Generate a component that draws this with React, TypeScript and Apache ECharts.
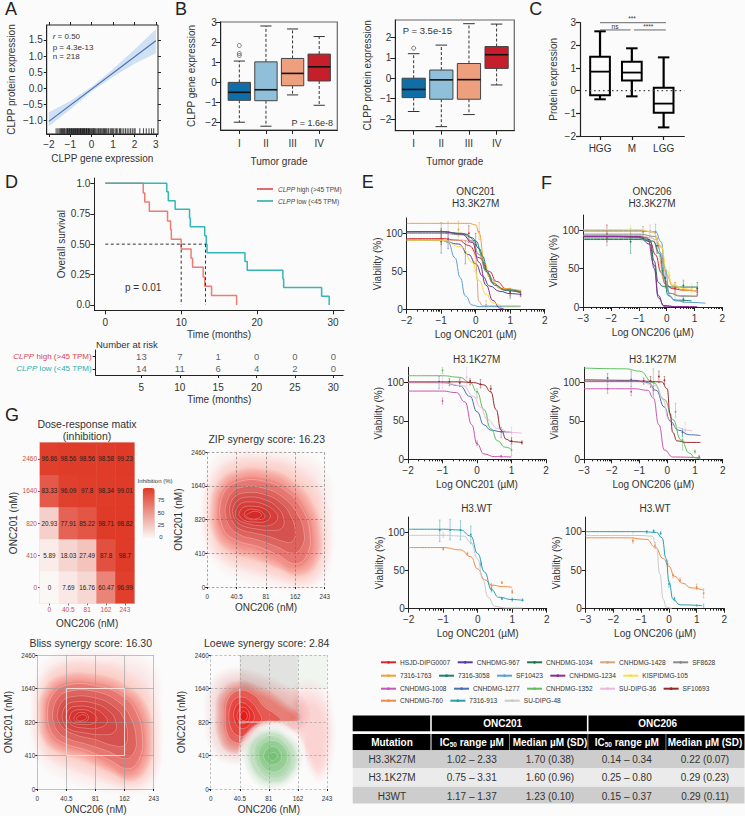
import React, { useEffect, useRef } from "react";
import * as echarts from "echarts";

const FONT = '"Liberation Sans", Arial, sans-serif';
const INK = "#222";
const TXT = "#333";

// ---- Panel A
const aLine = [[-2, -1.02], [3, 1.47]];
const aBand = [[-2, -0.74], [-1, -0.39], [0, 0.05], [1, 0.6], [2, 1.2], [3, 1.83], [3, 1.09], [2, 0.76], [1, 0.36], [0, -0.09], [-1, -0.65], [-2, -1.17]];
const aRug = [-1.66, -1.58, -1.52, -1.47, -1.43, -1.4, -1.36, -1.31, -1.28, -1.25, -1.2, -1.16, -1.13, -1.11, -1.07, -1.04, -1.02, -0.98, -0.95, -0.93, -0.9, -0.86, -0.84, -0.81, -0.78, -0.75, -0.73, -0.7, -0.66, -0.64, -0.62, -0.57, -0.54, -0.52, -0.5, -0.46, -0.44, -0.42, -0.38, -0.35, -0.33, -0.3, -0.26, -0.24, -0.22, -0.18, -0.15, -0.13, -0.1, -0.05, 0.0, 0.03, 0.07, 0.1, 0.12, 0.16, 0.2, 0.25, 0.3, 0.33, 0.38, 0.42, 0.47, 0.52, 0.56, 0.6, 0.65, 0.7, 0.76, 0.8, 0.87, 0.92, 0.98, 1.03, 1.1, 1.16, 1.22, 1.3, 1.35, 1.42, 1.5, 1.58, 1.66, 1.74, 1.82, 1.9, 1.98, 2.03, 2.25, 2.42, 2.55, 2.68, 2.8, 2.9];

// ---- Panels B, C
const gradeLabels = ["I", "II", "III", "IV"];
const gradeColors = ["#0f6ea8", "#8fbfd9", "#ee9f7d", "#c41f2a"];
const b1Boxes = [[1, -2, -0.9, -0.5, 0, 1.07], [2, -2.2, -0.92, -0.37, 1.03, 2.83], [3, -0.63, -0.17, 0.45, 1.2, 2.68], [4, -1.15, 0.07, 0.78, 1.42, 2.3]];
const b1Out = [[1, 1.35], [1, 1.45], [1, 1.85]];
const b2Boxes = [[1, -1.63, -0.95, -0.55, 0, 1.2], [2, -2.37, -1.03, -0.08, 0.4, 1.62], [3, -1.78, -1.03, -0.07, 0.72, 2.67], [4, -0.33, 0.48, 1.15, 1.55, 2.65]];
const b2Out = [[1, 1.47]];
const cLabels = ["HGG", "M", "LGG"];
const cBoxes = [[1, -0.38, -0.2, 0.84, 1.5, 2.62], [2, -0.25, 0.45, 0.8, 1.28, 1.87], [3, -1.62, -0.97, -0.57, 0.13, 1.47]];

// ---- Panel D
const kmHigh = [[0, 1], [5, 0.92], [5.2, 0.846], [5.8, 0.77], [8.2, 0.69], [8.6, 0.62], [8.7, 0.54], [10, 0.46], [11.3, 0.385], [11.5, 0.31], [12.9, 0.23], [13.1, 0.154], [14, 0.077], [17.3, 0]];
const kmLow = [[0, 1], [8.1, 0.93], [8.3, 0.857], [9.2, 0.786], [11.1, 0.714], [11.2, 0.643], [13.1, 0.57], [13.3, 0.5], [13.4, 0.43], [18.4, 0.357], [18.7, 0.286], [23.4, 0.214], [23.5, 0.143], [28.5, 0.071], [29.5, 0]];
const riskTimes = [5, 10, 15, 20, 25, 30];
const riskHigh = [13, 7, 1, 0, 0, 0];
const riskLow = [14, 11, 6, 4, 2, 0];
const riskRows = ["CLPP low (<45 TPM)", "CLPP high (>45 TPM)"];

// ---- Panels E, F
const strains = ["HSJD-DIPG0007", "CNHDMG-967", "CNHDMG-1034", "CNHDMG-1428", "SF8628", "7316-1763", "7316-3058", "SF10423", "CNHDMG-1234", "KISPIDMG-105", "CNHDMG-1008", "CNHDMG-1277", "CNHDMG-1352", "SU-DIPG-36", "SF10693", "CNHDMG-760", "7316-913", "SU-DIPG-48"];
const strainColors = ["#d7262e", "#5a3d96", "#1f7a54", "#d0a77e", "#8a8a8a", "#f0a035", "#1d7f72", "#5a9fd8", "#8a2f8f", "#f5e04a", "#c756b0", "#4a6fb5", "#5fbf5f", "#ecb8dc", "#952a2a", "#ef8a4a", "#2a9db0", "#c9c9c9"];

const e1Curves: any = {
  4: [[-2, 100], [-1, 100], [-0.4, 98], [-0.1, 90], [0.1, 72], [0.3, 50], [0.5, 35], [0.8, 26], [1.3, 22]],
  3: [[-2, 91], [-1, 91], [-0.4, 91], [-0.05, 88], [0, 70], [0.04, 40], [0.08, 12], [0.2, 5], [1.3, 5]],
  5: [[-2, 113], [-1, 113], [-0.2, 113], [0, 111], [0.1, 100], [0.25, 62], [0.4, 42], [0.7, 28], [1.3, 25]],
  9: [[-2, 91], [-1, 91], [-0.4, 82], [-0.1, 62], [0.1, 38], [0.3, 20], [0.5, 9], [0.8, 5], [1.3, 5]],
  7: [[-2, 92], [-1, 92], [-0.8, 88], [-0.6, 68], [-0.45, 42], [-0.3, 18], [-0.1, 6], [0.1, 4], [1, 4], [1.3, 4]],
  8: [[-2, 102], [-1, 102], [-0.4, 99], [-0.1, 88], [0.1, 62], [0.3, 32], [0.5, 12], [0.7, 2], [0.85, 0]],
  1: [[-2, 91], [-1, 90.5], [-0.5, 86], [-0.2, 72], [0, 60], [0.2, 44], [0.4, 31], [0.7, 24], [1, 21], [1.3, 20]],
  0: [[-2, 93], [-1, 93], [-0.5, 91], [-0.2, 84], [0.1, 68], [0.4, 50], [0.6, 37], [0.9, 27], [1.3, 22]],
  2: [[-2, 102], [-1, 102], [-0.4, 100], [-0.1, 94], [0.1, 80], [0.3, 52], [0.5, 35], [0.8, 27], [1.3, 24]],
  6: [[-2, 102], [-1, 102], [-0.3, 99], [0, 90], [0.2, 70], [0.35, 48], [0.55, 32], [0.9, 25], [1.3, 23]],
};
const e1Errs = [[-1, 88, 100, 114, 4], [-1, 74, 90, 106, 2], [-1, 85, 93, 104, 0], [-0.8, 90, 100, 115, 3], [-0.8, 80, 92, 102, 1], [-0.5, 95, 105, 116, 5], [-0.3, 60, 75, 90, 2], [-0.2, 88, 100, 110, 0], [-0.05, 50, 62, 76, 9], [0, 70, 85, 100, 8], [0.1, 92, 102, 114, 5], [0.3, 0, 6, 12, 3], [1, 15, 22, 28, 2], [1, 18, 24, 27, 0], [1.3, 18, 22, 26, 3], [1.3, 17, 20, 24, 8]];

const e2Curves: any = {
  13: [[-2, 100], [-1, 100], [-0.4, 96], [-0.1, 82], [0.1, 68], [0.3, 52], [0.6, 40], [1, 35], [1.3, 34]],
  14: [[-2, 101], [-0.5, 101], [-0.1, 100], [0.2, 97], [0.4, 88], [0.55, 65], [0.7, 38], [0.85, 26], [1, 23], [1.3, 22]],
  12: [[-2, 109], [-1, 109], [-0.5, 107], [-0.2, 100], [0, 88], [0.2, 65], [0.4, 40], [0.6, 24], [0.8, 16], [1, 13]],
  11: [[-2, 100], [-1, 100], [-0.5, 96], [-0.2, 82], [0, 62], [0.2, 45], [0.4, 38], [0.7, 36], [1, 35]],
  10: [[-2, 89], [-1, 89], [-0.6, 87], [-0.35, 75], [-0.15, 45], [0, 20], [0.2, 7], [0.5, 3.5], [1, 3]],
};
const e2Errs = [[-1.1, 92, 101, 108, 11], [-1, 112, 116, 120, 12], [-1, 72, 76, 80, 10], [-1, 92, 100, 108, 13], [-0.8, 96, 101, 105, 14], [-0.5, 95, 100, 105, 14], [-0.3, 95, 107, 120, 13], [-0.2, 97, 102, 105, 14], [0.1, 93, 98, 104, 14], [0.4, 88, 92, 96, 14], [0, 80, 88, 92, 12], [0.3, 44, 52, 58, 13], [0.7, 28, 36, 42, 11], [1, 25, 35, 42, 13], [1, 20, 24, 28, 14], [1, 5, 12, 19, 12], [1.3, 20, 22, 24, 14], [0.7, 3, 4, 5, 10], [0, 18, 21, 24, 10]];

const e3Curves: any = {
  17: [[-2, 96], [-1, 96], [-0.4, 95], [-0.2, 87], [0, 65], [0.15, 38], [0.3, 15], [0.5, 3], [0.8, 1], [1.3, 1]],
  15: [[-2, 80], [-1, 80], [-0.5, 77], [-0.2, 68], [0, 52], [0.2, 38], [0.4, 31], [0.7, 29], [1, 28]],
  16: [[-2, 104], [-1, 104], [-0.5, 103], [-0.2, 95], [0, 72], [0.2, 48], [0.4, 25], [0.6, 15], [1, 12], [1.3, 11]],
};
const e3Errs = [[-1.1, 88, 103, 116, 16], [-0.8, 90, 103, 117, 16], [-0.5, 90, 103, 115, 16], [-0.2, 85, 97, 108, 16], [-1, 93, 96, 100, 17], [-1, 77, 78, 80, 15], [-0.3, 70, 72, 74, 15], [0.1, 55, 58, 61, 16], [0.4, 27, 30, 33, 15], [0.4, 22, 25, 28, 16], [0.7, 33, 34, 36, 15], [0.7, 12, 13, 15, 16], [1, 20, 22, 25, 15], [1, 10, 12, 14, 16], [1.3, 10, 11, 13, 16]];

const f1Curves: any = {
  4: [[-3, 95], [-1, 95], [-0.4, 92], [-0.2, 70], [-0.05, 35], [0.1, 18], [0.5, 14], [1.1, 14]],
  3: [[-3, 93], [-1, 93], [-0.5, 90], [-0.3, 70], [-0.1, 35], [0.1, 18], [0.5, 15], [1.1, 14]],
  9: [[-3, 101], [-1, 101], [-0.5, 98], [-0.2, 80], [0, 48], [0.2, 30], [0.6, 24], [1.1, 20]],
  5: [[-3, 100], [-1, 100], [-0.5, 98], [-0.2, 78], [0, 42], [0.2, 28], [0.6, 22], [1.1, 20]],
  7: [[-3, 99], [-1, 99], [-0.4, 98], [-0.2, 85], [-0.05, 50], [0.1, 15], [0.3, 8], [0.8, 6], [1.4, 5]],
  6: [[-3, 88], [-1, 88], [-0.5, 86], [-0.25, 70], [-0.1, 40], [0.05, 15], [0.3, 9], [0.9, 8]],
  2: [[-3, 90], [-1, 90], [-0.6, 88], [-0.45, 60], [-0.3, 32], [-0.15, 27], [0.3, 26], [1.1, 26]],
  1: [[-3, 92], [-2, 92], [-1, 91], [-0.6, 82], [-0.45, 50], [-0.3, 12], [-0.1, 2], [0.3, 0.5], [0.8, 0.5]],
  8: [[-3, 92], [-1, 92], [-0.7, 90], [-0.45, 55], [-0.3, 15], [-0.1, 1], [0.5, 0.5], [1.1, 0.5]],
  0: [[-3, 93], [-2, 93], [-1, 92], [-0.6, 85], [-0.4, 68], [-0.2, 45], [-0.05, 30], [0.2, 24], [0.6, 22], [1.1, 21]],
};
const f1Errs = [[-2.15, 85, 95, 107, 0], [-2.15, 80, 90, 100, 4], [-1.3, 70, 85, 102, 2], [-1.3, 96, 100, 106, 9], [-0.85, 92, 98, 105, 4], [-0.6, 92, 99, 107, 3], [-0.4, 88, 98, 108, 7], [-0.35, 70, 80, 90, 1], [-0.05, 25, 38, 48, 0], [0.1, 35, 42, 52, 9], [0.3, 18, 24, 32, 0], [0.3, 10, 16, 22, 3], [0.6, 22, 28, 35, 2], [0.6, 6, 10, 14, 6], [0.9, 18, 24, 30, 9], [1.1, 15, 24, 32, 2], [1.1, 16, 20, 26, 0]];

const f2Curves: any = {
  13: [[-3, 101], [-1, 101], [-0.4, 96], [-0.15, 78], [0.05, 52], [0.3, 42], [0.7, 38], [0.9, 37]],
  12: [[-3, 119], [-1.5, 118], [-1, 115], [-0.5, 100], [-0.1, 78], [0.2, 52], [0.5, 25], [0.8, 8], [1, 2], [1.2, 0]],
  14: [[-3, 102], [-1, 102], [-0.2, 101], [0, 92], [0.1, 60], [0.2, 35], [0.35, 24], [0.7, 22], [1.2, 22]],
  11: [[-3, 104], [-1.2, 103], [-0.7, 100], [-0.4, 90], [-0.1, 68], [0.1, 50], [0.4, 38], [0.8, 32], [1.2, 31]],
  10: [[-3, 92], [-1.2, 92], [-0.7, 90], [-0.5, 80], [-0.3, 45], [-0.1, 12], [0.2, 3], [1.2, 2]],
};
const f2Errs = [[-2.15, 86, 92, 98, 10], [-2.15, 100, 106, 112, 11], [-1.3, 83, 88, 93, 10], [-1.3, 95, 104, 115, 11], [-0.85, 98, 102, 106, 14], [-0.6, 94, 102, 108, 14], [-0.3, 100, 108, 115, 14], [-0.1, 98, 103, 108, 14], [-0.5, 84, 90, 95, 10], [-0.5, 82, 100, 118, 12], [0.3, 55, 62, 73, 12], [0.15, 45, 52, 58, 13], [0.55, 12, 25, 38, 12], [0.55, 30, 35, 40, 11], [0.65, 33, 38, 48, 13], [1, 8, 10, 12, 12], [1.15, 1, 3, 5, 10]];

const f3Curves: any = {
  17: [[-3, 95], [-1, 95], [-0.6, 94], [-0.45, 80], [-0.33, 45], [-0.2, 12], [-0.1, 2], [0.1, 0]],
  15: [[-3, 92], [-1.5, 92], [-0.8, 90], [-0.5, 80], [-0.2, 65], [0, 55], [0.2, 42], [0.5, 33], [0.8, 27], [1.25, 24]],
  16: [[-3, 100], [-1, 100], [-0.45, 99], [-0.25, 92], [-0.1, 65], [0, 35], [0.15, 12], [0.4, 5], [1.2, 4]],
};
const f3Errs = [[-1.3, 85, 88, 92, 15], [-0.8, 98, 100, 101, 16], [-0.55, 99, 101, 102, 16], [-0.3, 96, 98, 100, 16], [-0.5, 78, 82, 86, 15], [-1.3, 95, 97, 99, 17], [-0.05, 50, 58, 62, 15], [0, 28, 32, 36, 16], [0.15, 40, 43, 45, 15], [0.2, 10, 13, 15, 16], [0.4, 35, 37, 40, 15], [1, 25, 28, 32, 15], [1.25, 14, 20, 26, 15], [1, 3, 4, 5, 16], [1.25, 2, 4, 6, 16]];

const legendRows = [strains.slice(0, 5), strains.slice(5, 10), strains.slice(10, 15), strains.slice(15, 18)];

// ---- Panel G
const doses206 = ["0", "40.5", "81", "162", "243"];
const doses201 = ["0", "410", "820", "1640", "2460"];
const heatRows = [
  [0, 7.69, 16.76, 60.47, 96.99],
  [5.89, 18.03, 27.49, 87.8, 98.7],
  [20.93, 77.91, 85.22, 98.71, 98.82],
  [83.33, 96.09, 97.8, 98.34, 99.01],
  [96.86, 98.56, 98.56, 98.58, 99.23],
];
const heatLegendTicks = [75, 50, 25, 0];

const zipRings = [
  [[0.02, 2.4], [0.15, 3.3], [0.7, 3.85], [1.9, 3.95], [3.1, 3.8], [3.9, 3.3], [4.05, 2.2], [4.05, 1], [3.8, 0.3], [3, 0.05], [2, 0.2], [1, 0.45], [0.3, 0.95], [0.05, 1.6]],
  [[0.1, 2.35], [0.3, 3.1], [0.95, 3.6], [2, 3.65], [3, 3.35], [3.7, 2.7], [3.95, 1.7], [3.85, 0.7], [3.25, 0.2], [2.4, 0.4], [1.6, 0.65], [0.8, 0.85], [0.25, 1.3]],
  [[0.26, 2.29], [0.49, 2.98], [1.11, 3.33], [2.02, 3.33], [2.82, 3.03], [3.44, 2.39], [3.73, 1.59], [3.61, 0.8], [3.05, 0.46], [2.36, 0.7], [1.68, 0.95], [0.89, 1.15], [0.38, 1.59]],
  [[0.42, 2.3], [0.6, 2.85], [1.15, 3.15], [2, 3.13], [2.7, 2.85], [3.25, 2.3], [3.5, 1.6], [3.4, 0.95], [3, 0.68], [2.4, 0.95], [1.7, 1.2], [1, 1.38], [0.55, 1.7]],
  [[0.6, 2.3], [0.78, 2.75], [1.2, 2.97], [1.95, 2.93], [2.6, 2.65], [3.05, 2.2], [3.3, 1.6], [3.2, 1.15], [2.9, 1], [2.35, 1.2], [1.7, 1.4], [1.1, 1.55], [0.72, 1.85]],
  [[0.75, 2.3], [0.9, 2.65], [1.3, 2.8], [1.95, 2.75], [2.5, 2.5], [2.85, 2.1], [3, 1.65], [2.9, 1.35], [2.6, 1.35], [2.1, 1.5], [1.6, 1.6], [1.1, 1.72], [0.85, 1.95]],
  [[0.85, 2.25], [1, 2.55], [1.35, 2.67], [1.95, 2.6], [2.4, 2.35], [2.6, 2.05], [2.55, 1.75], [2.2, 1.68], [1.7, 1.72], [1.2, 1.82], [0.95, 2]],
  [[0.95, 2.2], [1.1, 2.45], [1.45, 2.53], [1.95, 2.45], [2.3, 2.25], [2.4, 2.05], [2.2, 1.85], [1.75, 1.82], [1.3, 1.9], [1.02, 2.02]],
  [[1.07, 2.15], [1.2, 2.35], [1.55, 2.4], [1.95, 2.32], [2.15, 2.12], [2, 1.95], [1.6, 1.93], [1.25, 1.98]],
  [[1.25, 2.15], [1.35, 2.28], [1.65, 2.3], [1.9, 2.2], [1.95, 2.05], [1.7, 2], [1.35, 2.03]],
  [[1.3, 2.12], [1.6, 2.25], [1.85, 2.15], [1.7, 2.03], [1.4, 2.05]],
];
const blissRings = [
  [[0.02, 2.2], [0.1, 3.2], [0.7, 3.85], [2, 3.95], [3.2, 3.85], [3.95, 3.4], [4.05, 2.2], [4.05, 1], [3.8, 0.25], [3.1, 0.02], [2.1, 0.15], [1, 0.45], [0.25, 0.9], [0.03, 1.5]],
  [[0.08, 2.15], [0.2, 3], [0.85, 3.55], [2.05, 3.6], [3.1, 3.3], [3.8, 2.65], [3.98, 1.6], [3.85, 0.55], [3.2, 0.15], [2.4, 0.38], [1.5, 0.72], [0.7, 0.97], [0.2, 1.35]],
  [[0.2, 2.1], [0.32, 2.8], [0.9, 3.25], [2.05, 3.25], [2.97, 2.95], [3.6, 2.4], [3.83, 1.5], [3.65, 0.72], [3.14, 0.37], [2.5, 0.62], [1.7, 0.97], [0.78, 1.21], [0.32, 1.56]],
  [[0.35, 2.15], [0.47, 2.75], [1, 3.1], [2.05, 3.08], [2.9, 2.8], [3.4, 2.3], [3.62, 1.5], [3.48, 0.85], [3.12, 0.6], [2.5, 0.85], [1.7, 1.15], [0.9, 1.37], [0.48, 1.68]],
  [[0.52, 2.15], [0.65, 2.65], [1.1, 2.92], [2.05, 2.9], [2.8, 2.6], [3.2, 2.15], [3.4, 1.5], [3.3, 1.05], [3, 0.9], [2.5, 1.1], [1.7, 1.33], [1, 1.52], [0.65, 1.78]],
  [[0.68, 2.15], [0.8, 2.55], [1.15, 2.75], [2, 2.72], [2.65, 2.45], [3, 2.05], [3.1, 1.55], [3, 1.3], [2.6, 1.3], [2, 1.47], [1.3, 1.62], [0.85, 1.85]],
  [[0.85, 2.15], [0.95, 2.45], [1.25, 2.6], [2, 2.55], [2.5, 2.3], [2.7, 2], [2.65, 1.7], [2.2, 1.62], [1.6, 1.68], [1.1, 1.78], [0.92, 1.95]],
  [[0.98, 2.13], [1.08, 2.38], [1.35, 2.47], [1.9, 2.42], [2.3, 2.2], [2.4, 1.98], [2.1, 1.82], [1.6, 1.82], [1.2, 1.9]],
  [[1.1, 2.1], [1.2, 2.3], [1.5, 2.37], [1.85, 2.3], [2.05, 2.1], [1.9, 1.95], [1.5, 1.93], [1.2, 1.98]],
  [[1.25, 2.12], [1.37, 2.25], [1.6, 2.28], [1.75, 2.18], [1.7, 2.03], [1.45, 2], [1.3, 2.03]],
  [[1.33, 2.12], [1.55, 2.22], [1.7, 2.14], [1.55, 2.04], [1.38, 2.05]],
];
const loewePatches = [
  { pts: [[1, 3], [3, 3], [3, 4], [1, 4]], fill: "#e2e2e0" },
  { pts: [[3, 3], [4, 3], [4, 4], [3, 4]], fill: "#f1f5ef" },
  { pts: [[1, 2], [3, 2], [3, 3], [1, 3]], fill: "#f1dcd9" },
];
const loewePale = [
  [[2.95, 2.95], [3.7, 3], [4.08, 2.3], [4.08, 0.9], [3.75, 0.35], [3.3, 0.8], [3.05, 1.4], [2.5, 1.8], [2.9, 2]],
  [[3, 2.6], [3.6, 2.6], [3.95, 2.1], [3.95, 1.1], [3.7, 0.6], [3.3, 1.1], [3.1, 1.6], [2.75, 1.9]],
];
const loeweRed = [
  [[0.05, 2.2], [0.15, 3], [0.7, 3.4], [1.5, 3.3], [2.3, 3], [3, 2.6], [3.1, 2], [2.3, 1.75], [1.7, 1.55], [1.3, 1.05], [0.7, 0.95], [0.2, 1.3]],
  [[0.32, 2.2], [0.44, 2.8], [1, 3.1], [1.7, 2.9], [2.4, 2.55], [2.95, 2.1], [1.93, 1.97], [1.58, 1.67], [1.18, 1.27], [0.66, 1.22], [0.38, 1.62]],
  [[0.5, 2.2], [0.6, 2.7], [1, 2.95], [1.5, 2.8], [1.85, 2.45], [2.2, 2.25], [2.4, 2.05], [1.8, 2], [1.55, 1.75], [1.2, 1.42], [0.8, 1.4], [0.55, 1.7]],
  [[0.62, 2.2], [0.75, 2.62], [1.05, 2.75], [1.4, 2.6], [1.65, 2.3], [1.75, 2.05], [1.5, 1.85], [1.2, 1.6], [0.9, 1.6], [0.68, 1.85]],
  [[0.78, 2.2], [0.88, 2.5], [1.1, 2.58], [1.35, 2.42], [1.5, 2.15], [1.35, 1.92], [1.1, 1.8], [0.9, 1.88]],
  [[0.9, 2.18], [1, 2.4], [1.18, 2.43], [1.33, 2.25], [1.3, 2.05], [1.1, 1.95], [0.97, 2.02]],
  [[1, 2.15], [1.1, 2.32], [1.22, 2.28], [1.25, 2.12], [1.12, 2.03]],
];
const loeweHalo = [[1.15, 1], [1.4, 1.6], [2, 1.85], [2.7, 1.65], [3.1, 1.05], [2.9, 0.4], [2.25, 0.05], [1.5, 0.2]];
const loeweGreen = [
  [[1.25, 1], [1.45, 1.5], [2, 1.72], [2.6, 1.55], [3, 1.05], [2.8, 0.45], [2.25, 0.15], [1.6, 0.3]],
  [[1.45, 1], [1.6, 1.42], [2.1, 1.6], [2.55, 1.4], [2.82, 0.95], [2.6, 0.45], [2.15, 0.3], [1.7, 0.5]],
  [[1.62, 1], [1.75, 1.32], [2.15, 1.45], [2.5, 1.28], [2.65, 0.95], [2.45, 0.6], [2.1, 0.5], [1.8, 0.65]],
  [[1.8, 0.98], [1.95, 1.22], [2.2, 1.27], [2.4, 1.1], [2.42, 0.88], [2.2, 0.72], [1.95, 0.77]],
  [[1.98, 0.98], [2.15, 1.1], [2.3, 1], [2.2, 0.87], [2.05, 0.87]],
];
const blissFrame = [[1, 1], [1, 3], [3, 3], [3, 1], [1, 1]];
const loeweFrameV = [[1, 3], [1, 1.4]];
const loeweFrameH = [[1, 2], [3, 2]];

// ---- Table
const tableHead1 = ["ONC201", "ONC206"];
const tableMutations = ["H3.3K27M", "H3.1K27M", "H3WT"];
const tableRows = [
  ["1.02 – 2.33", "1.70 (0.38)", "0.14 – 0.34", "0.22 (0.07)"],
  ["0.75 – 3.31", "1.60 (0.96)", "0.25 – 0.80", "0.29 (0.23)"],
  ["1.17 – 1.37", "1.23 (0.10)", "0.15 – 0.37", "0.29 (0.11)"],
];

const minusFix = (s: any) => String(s).replace("-", "−");
const LOG_OFFS = [Math.log10(2), Math.log10(3), Math.log10(4), Math.log10(5), Math.log10(6), Math.log10(7), Math.log10(8), Math.log10(9)];
const FEATHER_STEPS = [1, 0.8, 0.6, 0.4, 0.2, 0, -0.2, -0.4, -0.6, -0.8];

function buildOption() {
  const grid: any[] = [];
  const xAxis: any[] = [];
  const yAxis: any[] = [];
  const series: any[] = [];
  const gfx: any[] = [];

  const addText = (x: number, y: number, text: string, o: any = {}) =>
    gfx.push({
      type: "text", x, y, silent: true,
      style: { text, fontFamily: FONT, fontSize: o.size ?? 10, fill: o.fill ?? TXT, align: o.align ?? "center", verticalAlign: "middle", fontWeight: o.weight ?? "normal", rich: o.rich },
    });

  const mkAxis = (gridIndex: number, s: any) => {
    const labels = s.labels;
    return {
      type: s.type ?? "value", gridIndex, min: s.min, max: s.max, position: s.pos, z: s.z,
      data: s.data,
      axisLine: { show: s.line !== false, onZero: false, lineStyle: { color: s.lineColor ?? INK, width: s.lineWidth ?? 1 } },
      axisTick: { show: s.tick !== false, length: s.tickLen ?? 3, customValues: s.ticks, alignWithLabel: s.type === "category" ? true : undefined, lineStyle: { color: s.tickColor ?? INK, width: s.tickWidth ?? 1 } },
      minorTick: { show: false },
      axisLabel: {
        show: !!labels || !!s.fmt, customValues: labels ? s.ticks : undefined, margin: s.margin ?? 4, hideOverlap: false, interval: s.type === "category" ? 0 : undefined,
        formatter: s.fmt ?? (labels ? (v: number) => { const i = s.ticks.findIndex((t: number) => Math.abs(t - v) < 1e-6); return i < 0 ? "" : labels[i]; } : undefined),
        fontSize: s.size ?? 10, fontFamily: FONT, color: s.labelColor ?? TXT, rich: s.rich,
      },
      splitLine: s.split ? { show: true, lineStyle: s.split } : { show: false },
      name: s.name, nameLocation: "middle", nameGap: s.nameGap, nameTextStyle: { fontSize: s.nameSize ?? 10, fontFamily: FONT, color: TXT },
    };
  };

  const addPanel = (rect: number[], x: any, y: any, gridExtra: any = {}) => {
    const g = grid.length;
    grid.push({ left: rect[0], top: rect[1], width: rect[2], height: rect[3], ...gridExtra });
    xAxis.push(mkAxis(g, x));
    yAxis.push(mkAxis(g, y));
    return { g, x: xAxis.length - 1, y: yAxis.length - 1 };
  };

  const boxSeries = (p: any, boxes: number[][], st: any) => {
    series.push({
      type: "custom", xAxisIndex: p.x, yAxisIndex: p.y, data: boxes, clip: false,
      renderItem: (params: any, api: any) => {
        const cx = api.value(0);
        const [lo, q1, med, q3, hi] = [1, 2, 3, 4, 5].map((d) => api.value(d));
        const c = (a: number, b: number) => api.coord([a, b]);
        const fill = st.colors ? st.colors[params.dataIndex] : "transparent";
        const L = (a: number[], b: number[], s: any) => ({ type: "line", shape: { x1: a[0], y1: a[1], x2: b[0], y2: b[1] }, style: s });
        const wh = { stroke: st.whisker, lineWidth: st.whiskerW, lineDash: st.dash };
        const cap = { stroke: st.whisker, lineWidth: st.capW ?? st.whiskerW };
        const tl = c(cx - st.w / 2, q3);
        const br = c(cx + st.w / 2, q1);
        return {
          type: "group",
          children: [
            L(c(cx, q3), c(cx, hi), wh),
            L(c(cx, q1), c(cx, lo), wh),
            L(c(cx - st.cap / 2, hi), c(cx + st.cap / 2, hi), cap),
            L(c(cx - st.cap / 2, lo), c(cx + st.cap / 2, lo), cap),
            { type: "rect", shape: { x: tl[0], y: tl[1], width: br[0] - tl[0], height: br[1] - tl[1] }, style: { fill, stroke: st.border, lineWidth: st.borderW } },
            L(c(cx - st.w / 2, med), c(cx + st.w / 2, med), { stroke: st.median, lineWidth: st.medW }),
          ],
        };
      },
    });
  };

  // Read-off contour outlines. Each is painted several times, pushed in or out by a few pixels
  // around its own centre, at a low opacity, so its edge fades like the reference's smooth surface.
  const ringSeries = (p: any, rings: number[][][], st: (i: number) => any) => {
    series.push({
      type: "custom", xAxisIndex: p.x, yAxisIndex: p.y, clip: false, silent: true,
      data: rings.map((_, i) => [i, 0]),
      renderItem: (params: any, api: any) => {
        const i = params.dataIndex;
        const s = st(i);
        const points: number[][] = rings[i].map((pt) => api.coord(pt));
        const smooth = s.smooth ?? 0.45;
        const cx = points.reduce((a, q) => a + q[0], 0) / points.length;
        const cy = points.reduce((a, q) => a + q[1], 0) / points.length;
        const children: any[] = [];
        if (s.feather) {
          const a = 1 - Math.pow(1 - s.alpha, 1 / FEATHER_STEPS.length);
          FEATHER_STEPS.forEach((f) => {
            const d = (s.feather * f) / 2;
            const pts = points.map((q) => {
              const dx = q[0] - cx;
              const dy = q[1] - cy;
              const r = Math.hypot(dx, dy) || 1;
              const k = Math.max(0.05, 1 + d / r);
              return [cx + dx * k, cy + dy * k];
            });
            children.push({ type: "polygon", shape: { points: pts, smooth }, style: { fill: s.color, opacity: a } });
          });
        } else {
          children.push({ type: "polygon", shape: { points, smooth }, style: { fill: s.color, opacity: s.alpha } });
        }
        if (s.contour) children.push({ type: "polyline", shape: { points: [...points, points[0]], smooth }, style: { stroke: s.contour, lineWidth: 0.6, opacity: 0.55, fill: null } });
        return { type: "group", children };
      },
    });
  };

  // ======== A
  const aTicksX = [-2, -1, 0, 1, 2, 3];
  const aTicksY = [1.5, 1, 0.5, 0, -0.5, -1];
  const aPan = addPanel([46.7, 25, 111.3, 109],
    { min: -2.1, max: 3.1, ticks: aTicksX, labels: aTicksX.map(minusFix), pos: "bottom", name: "CLPP gene expression", nameGap: 19, margin: 5 },
    { min: -1.41, max: 1.96, ticks: aTicksY, labels: ["1.5", "1.0", "0.5", "0.0", "−0.5", "−1.0"], pos: "left", name: "CLPP protein expression", nameGap: 30 },
    { show: true, borderColor: INK, borderWidth: 1 });
  xAxis.push(mkAxis(aPan.g, { min: -2.1, max: 3.1, ticks: aTicksX, pos: "top", line: false }));
  yAxis.push(mkAxis(aPan.g, { min: -1.41, max: 1.96, ticks: aTicksY, pos: "right", line: false }));
  ringSeries(aPan, [aBand], () => ({ color: "#bcd6f0", alpha: 0.7, smooth: 0 }));
  series.push({ type: "line", xAxisIndex: aPan.x, yAxisIndex: aPan.y, data: aLine, symbol: "none", lineStyle: { color: "#4a6fb5", width: 1.2 } });
  series.push({ type: "scatter", xAxisIndex: aPan.x, yAxisIndex: aPan.y, data: aRug.map((v) => [v, -1.32]), symbol: "rect", symbolSize: [1, 5.5], itemStyle: { color: "#111" }, silent: true });
  addText(52.7, 36.7, "{i|r} = 0.50", { size: 8, align: "left", rich: { i: { fontStyle: "italic", fontSize: 8, fontFamily: FONT } } });
  addText(52.7, 47, "p = 4.3e-13", { size: 8, align: "left" });
  addText(52.7, 56.7, "n = 218", { size: 8, align: "left" });

  // ======== B
  const romanFmt = gradeLabels;
  const boxStyle = { w: 0.84, cap: 0.42, colors: gradeColors, whisker: "#333", whiskerW: 1, dash: [3, 2], capW: 1, border: "#444", borderW: 1, median: "#111", medW: 1.6 };
  const b1 = addPanel([220.7, 22, 116.6, 108],
    { min: 0.3, max: 4.68, ticks: [1, 2, 3, 4], labels: romanFmt, pos: "bottom", name: "Tumor grade", nameGap: 26, margin: 8, tickLen: 4 },
    { min: -2.39, max: 3.03, ticks: [3, 2, 1, 0, -1, -2], labels: ["3", "2", "1", "0", "−1", "−2"], pos: "left", name: "CLPP gene expression", nameGap: 24, tickLen: 5 },
    { show: true, borderColor: "#666", borderWidth: 1.2 });
  boxSeries(b1, b1Boxes, boxStyle);
  series.push({ type: "scatter", xAxisIndex: b1.x, yAxisIndex: b1.y, data: b1Out, symbol: "circle", symbolSize: 4, itemStyle: { color: "transparent", borderColor: "#333", borderWidth: 0.8 } });
  addText(333, 123, "P = 1.6e-8", { size: 9, align: "right" });

  const b2 = addPanel([395.3, 20, 119, 110.7],
    { min: 0.335, max: 4.64, ticks: [1, 2, 3, 4], labels: romanFmt, pos: "bottom", name: "Tumor grade", nameGap: 26, margin: 8, tickLen: 4 },
    { min: -2.57, max: 2.85, ticks: [2, 1, 0, -1, -2], labels: ["2", "1", "0", "−1", "−2"], pos: "left", name: "CLPP protein expression", nameGap: 23, tickLen: 5 },
    { show: true, borderColor: "#666", borderWidth: 1.2 });
  boxSeries(b2, b2Boxes, boxStyle);
  series.push({ type: "scatter", xAxisIndex: b2.x, yAxisIndex: b2.y, data: b2Out, symbol: "circle", symbolSize: 4, itemStyle: { color: "transparent", borderColor: "#333", borderWidth: 0.8 } });
  addText(402.7, 30, "P = 3.5e-15", { size: 9.5, align: "left" });

  // ======== C
  const cP = addPanel([580, 22.7, 104.3, 113.3],
    { min: 0.37, max: 3.65, ticks: [1, 2, 3], labels: cLabels, pos: "bottom", margin: 7, tickLen: 4, lineWidth: 1.2, tickWidth: 1.2 },
    { min: -2, max: 3, ticks: [3, 2, 1, 0, -1, -2], labels: ["3", "2", "1", "0", "−1", "−2"], pos: "left", name: "Protein expression", nameGap: 22, tickLen: 4, lineWidth: 1.2, tickWidth: 1.2 });
  series.push({ type: "line", xAxisIndex: cP.x, yAxisIndex: cP.y, data: [[0.53, 0], [3.65, 0]], symbol: "none", lineStyle: { color: "#444", width: 1.2, type: [1.5, 3] } });
  boxSeries(cP, cBoxes, { w: 0.62, cap: 0.36, whisker: "#000", whiskerW: 2.2, capW: 2, border: "#000", borderW: 2, median: "#000", medW: 1.8 });
  const brackets = [[[1, 3], [3.07, 3]], [[1, 2.68], [1.96, 2.68]], [[2.07, 2.68], [3.07, 2.68]]];
  brackets.forEach((b) => series.push({ type: "line", xAxisIndex: cP.x, yAxisIndex: cP.y, data: b, symbol: "none", clip: false, lineStyle: { color: "#444", width: 0.8 } }));
  addText(370 + 786 / 3, 18.7, "***", { size: 6.5 });
  addText(370 + 735 / 3, 26, "ns", { size: 6.5 });
  addText(370 + 835 / 3, 26, "****", { size: 6.5 });

  // ======== D
  const dP = addPanel([94.3, 178, 249.7, 132.3],
    { min: -1.45, max: 31.45, ticks: [0, 10, 20, 30], labels: ["0", "10", "20", "30"], pos: "bottom", name: "Time (months)", nameGap: 19, margin: 7, tickLen: 4 },
    { min: -0.044, max: 1.044, ticks: [1, 0.75, 0.5, 0.25, 0], labels: ["1.0", "0.75", "0.50", "0.25", "0.0"], pos: "left", name: "Overall survival", nameGap: 27, tickLen: 4 });
  const dLine = (name: string, data: number[][], color: string) =>
    series.push({ type: "line", name, xAxisIndex: dP.x, yAxisIndex: dP.y, data, step: "end", symbol: "none", lineStyle: { color, width: 1.5 } });
  dLine("CLPP high (>45 TPM)", kmHigh, "#ef7b73");
  dLine("CLPP low (<45 TPM)", kmLow, "#35b6b8");
  [[[0, 0.5], [13.3, 0.5]], [[10, 0.5], [10, 0]], [[13.2, 0.5], [13.2, 0]]].forEach((d) =>
    series.push({ type: "line", xAxisIndex: dP.x, yAxisIndex: dP.y, data: d, symbol: "none", lineStyle: { color: "#333", width: 1, type: [3, 2.5] } }));
  addText(125, 287.7, "p = 0.01", { size: 10, align: "left" });
  gfx.push({ type: "line", shape: { x1: 257, y1: 189, x2: 273, y2: 189 }, style: { stroke: "#dc3a3c", lineWidth: 1.5 } });
  gfx.push({ type: "line", shape: { x1: 257, y1: 201, x2: 273, y2: 201 }, style: { stroke: "#1fa8a8", lineWidth: 1.5 } });
  const iRich = { i: { fontStyle: "italic", fontSize: 6.5, fontFamily: FONT, fill: "#444", color: "#444" } };
  addText(278, 189.5, "{i|CLPP} high (>45 TPM)", { size: 6.5, align: "left", fill: "#444", rich: iRich });
  addText(278, 201.5, "{i|CLPP} low (<45 TPM)", { size: 6.5, align: "left", fill: "#444", rich: iRich });

  // Risk table
  addText(96, 344, "Number at risk", { size: 9.5, align: "left" });
  const rP = addPanel([95.7, 350, 247.3, 25],
    { min: -0.95, max: 31.26, ticks: riskTimes, labels: riskTimes.map(String), pos: "bottom", name: "Time (months)", nameGap: 19, margin: 7, tickLen: 3 },
    {
      type: "category", data: riskRows, pos: "left", tickLen: 3, size: 8, margin: 4,
      fmt: (v: string) => {
        const hi = v.includes("high");
        const rest = v.replace("CLPP ", "");
        return hi ? `{hi|CLPP}{hn| ${rest}}` : `{li|CLPP}{ln| ${rest}}`;
      },
      rich: {
        hi: { color: "#d8434a", fontStyle: "italic", fontSize: 8, fontFamily: FONT },
        hn: { color: "#d8434a", fontSize: 8, fontFamily: FONT },
        li: { color: "#2fb0b0", fontStyle: "italic", fontSize: 8, fontFamily: FONT },
        ln: { color: "#2fb0b0", fontSize: 8, fontFamily: FONT },
      },
    });
  const riskSer = (vals: number[], row: string) =>
    series.push({
      type: "scatter", xAxisIndex: rP.x, yAxisIndex: rP.y, symbolSize: 0, silent: true,
      data: vals.map((v, i) => [riskTimes[i], row, v]),
      encode: { x: 0, y: 1 },
      label: { show: true, position: "inside", formatter: (p: any) => String(p.value[2]), fontSize: 9.5, fontFamily: FONT, color: TXT },
    });
  riskSer(riskHigh, riskRows[1]);
  riskSer(riskLow, riskRows[0]);

  // ======== E, F panels
  const doseTicks201 = [-2, -1, 0, 1, 2];
  const doseTicks206 = [-3, -2, -1, 0, 1, 2];
  const dosePanel = (rect: number[], xMin: number, yMax: number, ticks: number[], xName: string, curves: any, errs: number[][], yNameGap: number) => {
    const xMax = 2;
    const p = addPanel(rect,
      { min: xMin, max: xMax, ticks, labels: ticks.map(minusFix), pos: "bottom", name: xName, nameGap: 20, margin: 6, tickLen: 4 },
      { min: 0, max: yMax, ticks: [100, 50, 0], labels: ["100", "50", "0"], pos: "left", name: "Viability (%)", nameGap: yNameGap, tickLen: 4 });
    const minors: number[] = [];
    for (let d = xMin; d < xMax; d++) LOG_OFFS.forEach((o) => minors.push(d + o));
    const g2 = grid.length;
    grid.push({ left: rect[0], top: rect[1], width: rect[2], height: rect[3] });
    xAxis.push(mkAxis(g2, { min: xMin, max: xMax, ticks: minors, pos: "bottom", tickLen: 2, line: false }));
    yAxis.push({ ...mkAxis(g2, { min: 0, max: yMax, ticks: [0], pos: "left", line: false, tick: false }), show: false });
    Object.keys(curves).forEach((k) => {
      const i = Number(k);
      series.push({
        type: "line", name: strains[i], xAxisIndex: p.x, yAxisIndex: p.y, data: curves[k], smooth: 0.5, smoothMonotone: "x", showSymbol: false, symbol: "circle", symbolSize: 3, clip: true,
        lineStyle: { color: strainColors[i], width: 1 }, itemStyle: { color: strainColors[i] },
      });
    });
    series.push({
      type: "custom", xAxisIndex: p.x, yAxisIndex: p.y, data: errs, clip: true, silent: true,
      renderItem: (params: any, api: any) => {
        const col = strainColors[api.value(4)];
        const x = api.value(0);
        const a = api.coord([x, api.value(1)]);
        const b = api.coord([x, api.value(3)]);
        const m = api.coord([x, api.value(2)]);
        const st = { stroke: col, lineWidth: 0.6, opacity: 0.75 };
        return {
          type: "group",
          children: [
            { type: "line", shape: { x1: a[0], y1: a[1], x2: b[0], y2: b[1] }, style: st },
            { type: "line", shape: { x1: a[0] - 0.8, y1: a[1], x2: a[0] + 0.8, y2: a[1] }, style: st },
            { type: "line", shape: { x1: b[0] - 0.8, y1: b[1], x2: b[0] + 0.8, y2: b[1] }, style: st },
            { type: "circle", shape: { cx: m[0], cy: m[1], r: 0.9 }, style: { fill: col } },
          ],
        };
      },
    });
  };
  dosePanel([406.7, 218, 138, 91.7], -2, 120, doseTicks201, "Log ONC201 (µM)", e1Curves, e1Errs, 22);
  dosePanel([408, 367.3, 138, 92], -2, 120, doseTicks201, "Log ONC201 (µM)", e2Curves, e2Errs, 22);
  dosePanel([408.7, 517, 138, 91.7], -2, 120, doseTicks201, "Log ONC201 (µM)", e3Curves, e3Errs, 22);
  dosePanel([583.3, 215, 139, 92], -3, 120, doseTicks206, "Log ONC206 (µM)", f1Curves, f1Errs, 22);
  dosePanel([584, 367.3, 138.7, 92], -3, 120, doseTicks206, "Log ONC206 (µM)", f2Curves, f2Errs, 22);
  dosePanel([585.7, 517, 138.7, 91.7], -3, 119, doseTicks206, "Log ONC206 (µM)", f3Curves, f3Errs, 22);

  addText(475.7, 191.7, "ONC201", { size: 10 });
  addText(475.7, 203, "H3.3K27M", { size: 10 });
  addText(652, 191.7, "ONC206", { size: 10 });
  addText(652, 203, "H3.3K27M", { size: 10 });
  addText(476.7, 359, "H3.1K27M", { size: 10 });
  addText(652.7, 359, "H3.1K27M", { size: 10 });
  addText(476.7, 508, "H3.WT", { size: 10 });
  addText(655, 508, "H3.WT", { size: 10 });

  // ======== G heat map
  const hm = addPanel([40, 442.7, 94.3, 160.6],
    { type: "category", data: doses206, pos: "bottom", fmt: (v: string) => v, size: 6.5, labelColor: "#c9504a", margin: 3, tickLen: 2, line: false, tickColor: "#666", name: "ONC206 (nM)", nameGap: 15, nameSize: 10 },
    { type: "category", data: doses201, pos: "left", fmt: (v: string) => v, size: 6.5, labelColor: "#c9504a", margin: 3, tickLen: 2, line: false, tickColor: "#666", name: "ONC201 (nM)", nameGap: 21, nameSize: 10 },
    { show: true, borderColor: "#e4e4e4", borderWidth: 1.5 });
  const heatData: any[] = [];
  heatRows.forEach((row, r) => row.forEach((v, c) => heatData.push([c, r, v])));
  const heatIndex = series.length;
  series.push({
    type: "heatmap", xAxisIndex: hm.x, yAxisIndex: hm.y, data: heatData,
    label: { show: true, formatter: (p: any) => String(p.value[2]), fontSize: 6.3, fontFamily: FONT, color: "#222" },
  });
  const vm = { type: "continuous", seriesIndex: heatIndex, min: 0, max: 100, calculable: false, hoverLink: false, inRange: { color: ["#fbf7f5", "#df3926"] }, left: 142.7, top: 488, itemWidth: 12, itemHeight: 50, padding: 0, text: null };
  addText(87, 424, "Dose-response matix", { size: 10.5 });
  addText(87, 436, "(inhibition)", { size: 10.5 });
  addText(155, 480.7, "Inhibition (%)", { size: 6 });
  heatLegendTicks.forEach((t, i) => addText(161, [500, 512.7, 525, 537.3][i], String(t), { size: 6 }));

  // ======== G surfaces
  const surfacePanel = (rect: number[], title: number[], titleText: string, gridCol: any, yGap: number) => {
    const lab = [0, 1, 2, 3, 4];
    const p = addPanel(rect,
      { min: 0, max: 4, ticks: lab, labels: doses206, pos: "bottom", size: 6.3, margin: 6, tickLen: 2, line: false, z: 5, split: gridCol, name: "ONC206 (nM)", nameGap: 15, labelColor: "#333" },
      { min: 0, max: 4, ticks: lab, labels: doses201, pos: "left", size: 6.3, margin: 2, tickLen: 2, line: false, z: 5, split: gridCol, name: "ONC201 (nM)", nameGap: yGap, labelColor: "#333" });
    addText(title[0], title[1], titleText, { size: 10.5 });
    return p;
  };
  const RED = "#e0261f";
  const PINK = "#ffe3de";
  const REDS = (i: number) => {
    if (i === 0) return { color: RED, alpha: 0.08, feather: 18 };
    if (i === 1) return { color: RED, alpha: 0.13, feather: 18 };
    if (i === 2) return { color: RED, alpha: 0.3, feather: 12 };
    if (i === 3) return { color: RED, alpha: 0.22, feather: 6, contour: PINK };
    return { color: RED, alpha: 0.22, feather: 3, contour: PINK };
  };
  const zipP = surfacePanel([207.3, 452.3, 117.4, 134.7], [266.7, 438.7], "ZIP synergy score: 16.23", { color: "#6a6a6a", width: 0.6, type: [2.5, 2] }, 24);
  ringSeries(zipP, zipRings, REDS);
  const blissP = surfacePanel([37.3, 655, 116.4, 134], [90.7, 643], "Bliss synergy score: 16.30", { color: "#999", width: 0.6 }, 24);
  ringSeries(blissP, blissRings, REDS);
  series.push({ type: "line", xAxisIndex: blissP.x, yAxisIndex: blissP.y, data: blissFrame, symbol: "none", z: 6, lineStyle: { color: "rgba(250,225,220,0.9)", width: 1 } });
  const loeweP = surfacePanel([210.7, 655, 116.3, 134], [266.7, 643], "Loewe synergy score: 2.84", { color: "#999", width: 0.6, type: [2.5, 2] }, 24);
  series.push({
    type: "custom", xAxisIndex: loeweP.x, yAxisIndex: loeweP.y, silent: true, data: loewePatches.map((_, i) => [i, 0]),
    renderItem: (params: any, api: any) => {
      const pa = loewePatches[params.dataIndex];
      return { type: "polygon", shape: { points: pa.pts.map((pt) => api.coord(pt)) }, style: { fill: pa.fill } };
    },
  });
  ringSeries(loeweP, loewePale, () => ({ color: "#e1463c", alpha: 0.1, feather: 14 }));
  ringSeries(loeweP, loeweRed, (i) => (i === 0 ? { color: RED, alpha: 0.17, feather: 16 } : i === 1 ? { color: RED, alpha: 0.38, feather: 10 } : { color: RED, alpha: 0.32, feather: 3, contour: PINK }));
  [loeweFrameV, loeweFrameH].forEach((d) =>
    series.push({ type: "line", xAxisIndex: loeweP.x, yAxisIndex: loeweP.y, data: d, symbol: "none", z: 6, lineStyle: { color: "rgba(250,225,220,0.9)", width: 1 } }));
  ringSeries(loeweP, [loeweHalo], () => ({ color: "#fbfbfb", alpha: 0.95, feather: 12 }));
  ringSeries(loeweP, loeweGreen, (i) => ({ color: "#66b455", alpha: i === 0 ? 0.2 : 0.27, feather: i < 2 ? 10 : 4, contour: i > 0 ? "#eaf5e6" : undefined }));

  // Panel letters
  [["A", 5, 9], ["B", 175, 9], ["C", 529.3, 9], ["D", 5, 182], ["E", 361.7, 182], ["F", 541, 182.7], ["G", 5, 415]].forEach(([t, x, y]: any) =>
    addText(x, y, t, { size: 18, align: "left", fill: "#222" }));

  // ======== Table
  const X = [352.7, 431, 509, 587.7, 665.7, 744.5];
  const rect = (x: number, y: number, w: number, h: number, fill: string) =>
    gfx.push({ type: "rect", shape: { x, y, width: w, height: h }, style: { fill } });
  rect(X[0], 715.5, X[1] - X[0] - 0.8, 15.7, "#000");
  rect(X[1] + 0.8, 715.5, X[3] - X[1] - 1.6, 15.7, "#000");
  rect(X[3] + 0.8, 715.5, X[5] - X[3] - 0.8, 15.7, "#000");
  for (let i = 0; i < 5; i++) rect(X[i] + (i ? 0.5 : 0), 734, X[i + 1] - X[i] - 0.5, 16.3, "#000");
  rect(X[0], 750.3, X[5] - X[0], 18, "#cdcdcd");
  rect(X[0], 768.3, X[5] - X[0], 18.5, "#ebebeb");
  rect(X[0], 786.8, X[5] - X[0], 16.7, "#cdcdcd");
  addText(502.7, 723.3, tableHead1[0], { size: 10, weight: "bold", fill: "#fff" });
  addText(657.7, 723.3, tableHead1[1], { size: 10, weight: "bold", fill: "#fff" });
  const headRich = { s: { fontSize: 6.5, fontWeight: "bold", fontFamily: FONT, fill: "#fff", color: "#fff", padding: [5, 0, 0, 0] }, n: { fontSize: 10, fontWeight: "bold", fontFamily: FONT, fill: "#fff", color: "#fff" } };
  addText(392, 742, "Mutation", { size: 10, weight: "bold", fill: "#fff" });
  [471.7, 626.7].forEach((x) => addText(x, 742, "{n|IC}{s|50}{n| range µM}", { size: 10, weight: "bold", fill: "#fff", rich: headRich }));
  [550, 705].forEach((x) => addText(x, 742, "Median µM (SD)", { size: 10, weight: "bold", fill: "#fff" }));
  const rowY = [759, 777, 796];
  tableMutations.forEach((m, r) => {
    addText(392, rowY[r], m, { size: 10 });
    tableRows[r].forEach((v, c) => addText([471.7, 550, 626.7, 705][c], rowY[r], v, { size: 10 }));
  });

  const legend = legendRows.map((names, i) => ({
    data: names, left: 380, top: [662.3, 675.7, 688.7, 700.7][i] - 3.5, padding: 0,
    itemWidth: 15, itemHeight: 3.5, itemGap: 6.5, selectedMode: false,
    textStyle: { fontSize: 6.6, fontFamily: FONT, color: "#333", padding: [0, 0, 0, -1], lineHeight: 7 },
  }));

  return {
    animation: false,
    backgroundColor: "#fbfbfb",
    tooltip: { show: false },
    grid, xAxis, yAxis, series, legend,
    visualMap: [vm],
    graphic: { elements: gfx },
  };
}

export default function App() {
  const ref = useRef<HTMLDivElement>(null);
  useEffect(() => {
    const chart = echarts.init(ref.current!, undefined, { renderer: "svg" });
    chart.setOption(buildOption() as any);
    return () => chart.dispose();
  }, []);
  return <div ref={ref} style={{ position: "absolute", left: 0, top: 0, width: 745, height: 816 }} />;
}
